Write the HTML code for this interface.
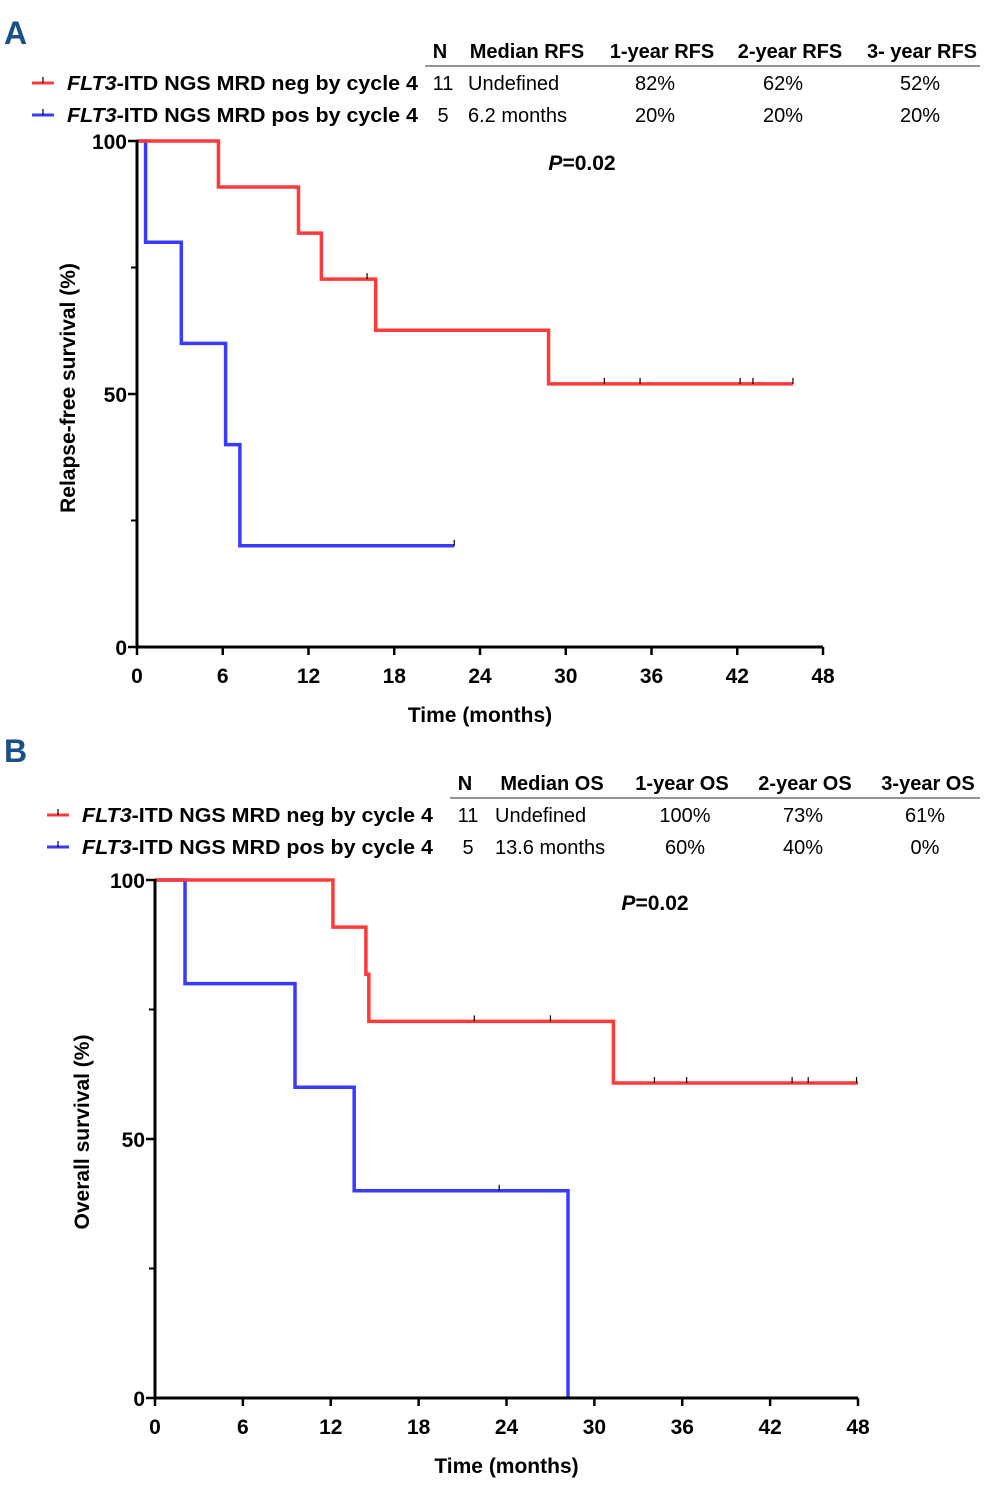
<!DOCTYPE html>
<html><head><meta charset="utf-8"><style>
html,body{margin:0;padding:0;background:#fff;}
svg{display:block;font-family:"Liberation Sans",sans-serif;}
.hd{font-size:20px;font-weight:bold;}
.tx{font-size:20px;}
.tk{font-size:21px;font-weight:bold;}
</style></head><body>
<svg id="chart" width="1004" height="1494" viewBox="0 0 1004 1494"></svg>
<script>
// Panel A (RFS) data
const xTicks = [0, 6, 12, 18, 24, 30, 36, 42, 48];
const yTicks = [0, 50, 100];
const yMinor = [25, 75];
const aNegSteps = [[0,100],[5.7,90.9],[11.3,81.8],[12.9,72.7],[16.7,62.6],[28.8,52.0]];
const aNegEnd = 45.9;
const aNegCensor = [16.1, 32.7, 35.2, 42.2, 43.1, 45.9];
const aPosSteps = [[0,100],[0.6,80],[3.1,60],[6.2,40],[7.2,20]];
const aPosEnd = 22.2;
const aPosCensor = [22.2];
// Panel B (OS) data
const bNegSteps = [[0,100],[12.15,90.9],[14.4,81.8],[14.6,72.7],[31.3,60.8]];
const bNegEnd = 48;
const bNegCensor = [21.8, 27.0, 34.1, 36.3, 43.5, 44.6, 47.9];
const bPosSteps = [[0,100],[2.05,80],[9.56,60],[13.6,40],[28.2,0]];
const bPosEnd = 28.2;
const bPosCensor = [23.5];

const svg = document.getElementById('chart');
const NS = 'http://www.w3.org/2000/svg';
function mk(tag, attrs, parent){ const e=document.createElementNS(NS,tag); for(const k in attrs) e.setAttribute(k,attrs[k]); (parent||svg).appendChild(e); return e; }
function txt(x,y,s,cls,anchor,parent){ const t=mk('text',{x:x,y:y,class:cls,'text-anchor':anchor||'start'},parent); t.textContent=s; return t; }

function panel(p){
  const g = mk('g',{});
  
  
  const X = v => p.x0 + (p.x1-p.x0)*v/48;
  const Y = v => p.y0 - (p.y0-p.y1)*v/100;
  function curve(steps,end,censor,color,nm){
    let d = 'M'+X(steps[0][0])+','+Y(steps[0][1]);
    for(let i=1;i<steps.length;i++){ d+=' H'+X(steps[i][0])+' V'+Y(steps[i][1]); }
    d+=' H'+X(end);
    const path = mk('path',{d:d,fill:'none',stroke:color,'stroke-width':3.5},g);
    
    
    censor.forEach(c=>{
      let v = steps[0][1];
      steps.forEach(s=>{ if(s[0]<=c) v=s[1]; });
      const m = mk('line',{x1:X(c),x2:X(c),y1:Y(v)-6,y2:Y(v),stroke:'#000','stroke-width':1.2},g);
      
      
    });
  }
  curve(p.pos[0],p.pos[1],p.pos[2],'#3a3aff','positive');
  curve(p.neg[0],p.neg[1],p.neg[2],'#ff3a3a','negative');
  const ax = mk('path',{d:'M'+p.x0+','+(p.y1-1)+' V'+p.y0+' H'+p.x1,fill:'none',stroke:'#000','stroke-width':3},g);
  
  
  xTicks.forEach(t=>{
    mk('line',{x1:X(t),x2:X(t),y1:p.y0,y2:p.y0+8,stroke:'#000','stroke-width':2.5},g);
    const l = txt(X(t),p.y0+36,String(t),'tk','middle',g);
    
    
  });
  yTicks.forEach(t=>{
    mk('line',{x1:p.x0-9,x2:p.x0,y1:Y(t),y2:Y(t),stroke:'#000','stroke-width':2.5},g);
    const l = txt(p.x0-10,Y(t)+8,String(t),'tk','end',g);
    
    
  });
  yMinor.forEach(t=>{ mk('line',{x1:p.x0-6,x2:p.x0,y1:Y(t),y2:Y(t),stroke:'#000','stroke-width':2},g); });
  const xt = txt((p.x0+p.x1)/2,p.y0+75,'Time (months)','tk','middle',g);
  
  
  const yt = txt(0,0,p.ylab,'tk','middle',g);
  yt.setAttribute('transform','translate('+p.ylx+','+p.yly+') rotate(-90)');
  
  
  const pv = mk('text',{x:p.px,y:p.py,class:'tk','text-anchor':'middle'},g);
  pv.innerHTML='<tspan font-style="italic">P</tspan>=0.02';
  
  
  const L = txt(p.lx,p.ly,p.letter,'hd','start',g);
  L.setAttribute('style','font-size:32px;fill:#1a4f8a;font-weight:900');
  
  
  const lg = mk('g',{},g);
  
  
  p.head.forEach(h=>{ txt(h[0],p.hy,h[1],'hd','middle',lg); });
  mk('line',{x1:p.hl0,x2:p.hl1,y1:p.hy+8,y2:p.hy+8,stroke:'#555','stroke-width':1.2},lg);
  [[p.rows[0],'#ff3a3a',p.hy+32],[p.rows[1],'#3a3aff',p.hy+64]].forEach(r=>{
    const yy=r[2];
    const e = mk('g',{},lg);
    
    
    mk('line',{x1:p.kx,x2:p.kx+22,y1:yy-7,y2:yy-7,stroke:r[1],'stroke-width':3},e);
    mk('line',{x1:p.kx+11,x2:p.kx+11,y1:yy-13,y2:yy-7,stroke:'#000','stroke-width':1.2},e);
    const t = mk('text',{x:p.kx+35,y:yy,class:'hd',textLength:351,lengthAdjust:'spacingAndGlyphs'},e);
    t.innerHTML='<tspan font-style="italic">FLT3</tspan>-ITD NGS MRD '+r[0][0]+' by cycle 4';
    r[0].slice(1).forEach((v,i)=>{ txt(p.cols[i][0],yy,v,'tx',p.cols[i][1],e); });
  });
}

panel({name:'panel-a-rfs',x0:137,x1:823,y0:647,y1:141,ylab:'Relapse-free survival (%)',ylx:75,yly:388,px:582,py:170,
  letter:'A',lx:4,ly:44,hy:58,hl0:425,hl1:980,kx:32,
  head:[[440,'N'],[527,'Median RFS'],[662,'1-year RFS'],[790,'2-year RFS'],[922,'3- year RFS']],
  cols:[[443,'middle'],[468,'start'],[655,'middle'],[783,'middle'],[920,'middle']],
  rows:[['neg','11','Undefined','82%','62%','52%'],['pos','5','6.2 months','20%','20%','20%']],
  neg:[aNegSteps,aNegEnd,aNegCensor],pos:[aPosSteps,aPosEnd,aPosCensor]});
panel({name:'panel-b-os',x0:155,x1:858,y0:1398,y1:880,ylab:'Overall survival (%)',ylx:89,yly:1132,px:655,py:910,
  letter:'B',lx:4,ly:762,hy:790,hl0:450,hl1:980,kx:47,
  head:[[465,'N'],[552,'Median OS'],[682,'1-year OS'],[805,'2-year OS'],[928,'3-year OS']],
  cols:[[468,'middle'],[495,'start'],[685,'middle'],[803,'middle'],[925,'middle']],
  rows:[['neg','11','Undefined','100%','73%','61%'],['pos','5','13.6 months','60%','40%','0%']],
  neg:[bNegSteps,bNegEnd,bNegCensor],pos:[bPosSteps,bPosEnd,bPosCensor]});
</script>
</body></html>
